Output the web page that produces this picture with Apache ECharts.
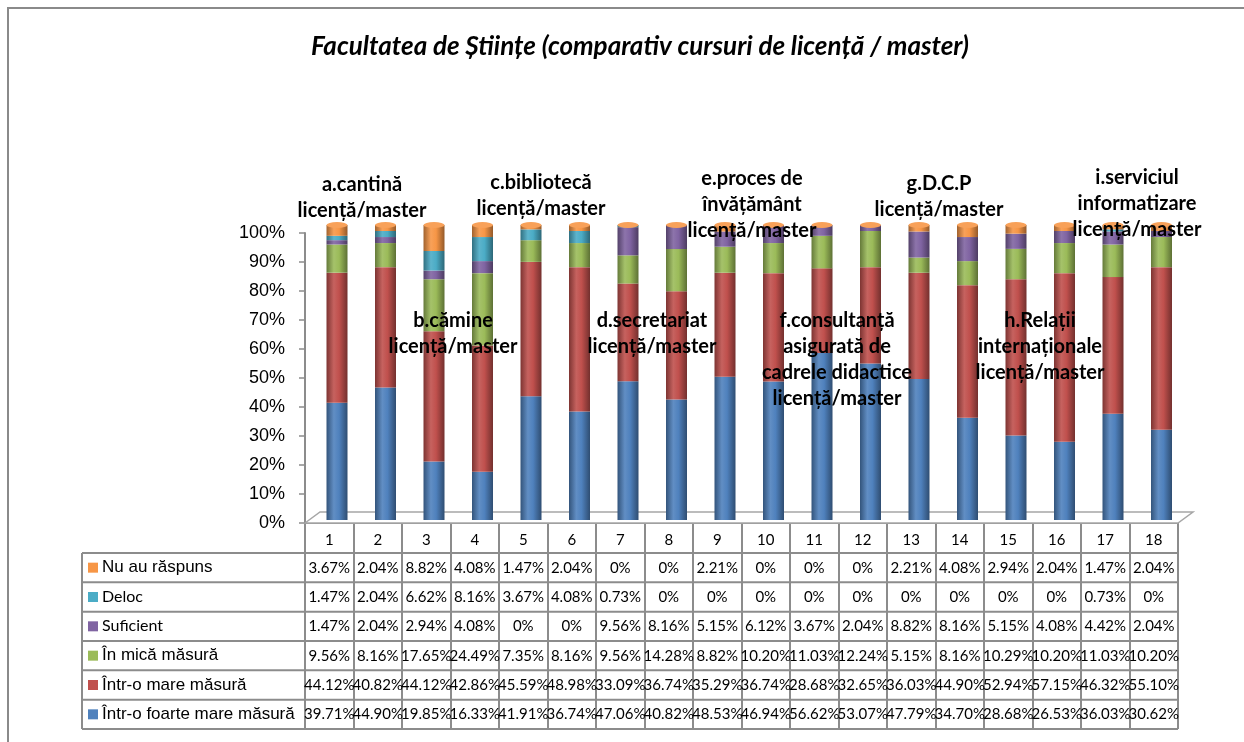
<!DOCTYPE html>
<html>
<head>
<meta charset="utf-8">
<script src="https://cdn.jsdelivr.net/npm/echarts@6.0.0/dist/echarts.min.js"></script>
<style>
  html, body { margin: 0; padding: 0; background: #fff; }
  #chart { width: 1244px; height: 742px; }
</style>
</head>
<body>
<div id="chart"></div>
<script>
// date citite din tabelul graficului (procente)
const categories = ['1', '2', '3', '4', '5', '6', '7', '8', '9', '10', '11', '12', '13', '14', '15', '16', '17', '18'];

const nuAuRaspuns = [3.67, 2.04, 8.82, 4.08, 1.47, 2.04, 0, 0, 2.21, 0, 0, 0, 2.21, 4.08, 2.94, 2.04, 1.47, 2.04];
const deloc = [1.47, 2.04, 6.62, 8.16, 3.67, 4.08, 0.73, 0, 0, 0, 0, 0, 0, 0, 0, 0, 0.73, 0];
const suficient = [1.47, 2.04, 2.94, 4.08, 0, 0, 9.56, 8.16, 5.15, 6.12, 3.67, 2.04, 8.82, 8.16, 5.15, 4.08, 4.42, 2.04];
const inMicaMasura = [9.56, 8.16, 17.65, 24.49, 7.35, 8.16, 9.56, 14.28, 8.82, 10.20, 11.03, 12.24, 5.15, 8.16, 10.29, 10.20, 11.03, 10.20];
const intrOMareMasura = [44.12, 40.82, 44.12, 42.86, 45.59, 48.98, 33.09, 36.74, 35.29, 36.74, 28.68, 32.65, 36.03, 44.90, 52.94, 57.15, 46.32, 55.10];
const intrOFoarteMareMasura = [39.71, 44.90, 19.85, 16.33, 41.91, 36.74, 47.06, 40.82, 48.53, 46.94, 56.62, 53.07, 47.79, 34.70, 28.68, 26.53, 36.03, 30.62];

const yTicks = [0, 10, 20, 30, 40, 50, 60, 70, 80, 90, 100];

const annotations = [
  'a.cantină\nlicență/master',
  'b.cămine\nlicență/master',
  'c.bibliotecă\nlicență/master',
  'd.secretariat\nlicență/master',
  'e.proces de\nînvățământ\nlicență/master',
  'f.consultanță\nasigurată de\ncadrele didactice\nlicență/master',
  'g.D.C.P\nlicență/master',
  'h.Relații\ninternaționale\nlicență/master',
  'i.serviciul\ninformatizare\nlicență/master'
];

// serii: de jos in sus in stiva
const stackSeries = [
  { name: 'Într-o foarte mare măsură', data: intrOFoarteMareMasura, color: '#4F81BD' },
  { name: 'Într-o mare măsură', data: intrOMareMasura, color: '#C0504D' },
  { name: 'În mică măsură', data: inMicaMasura, color: '#9BBB59' },
  { name: 'Suficient', data: suficient, color: '#8064A2' },
  { name: 'Deloc', data: deloc, color: '#4BACC6' },
  { name: 'Nu au răspuns', data: nuAuRaspuns, color: '#F79646' }
];

// randurile tabelului, de sus in jos
const tableRows = stackSeries.slice().reverse();

function shade(hex, f) {
  let n = parseInt(hex.slice(1), 16);
  let r = (n >> 16) & 255, g = (n >> 8) & 255, b = n & 255;
  const m = v => Math.max(0, Math.min(255, Math.round(f < 0 ? v * (1 + f) : v + (255 - v) * f)));
  return 'rgb(' + m(r) + ',' + m(g) + ',' + m(b) + ')';
}

function cylinder(hex) {
  return {
    type: 'linear', x: 0, y: 0, x2: 1, y2: 0,
    colorStops: [
      { offset: 0, color: shade(hex, -0.35) },
      { offset: 0.35, color: shade(hex, 0.1) },
      { offset: 0.6, color: shade(hex, 0.0) },
      { offset: 1, color: shade(hex, -0.4) }
    ]
  };
}

function fmt(v) {
  return v === 0 ? '0%' : v.toFixed(2) + '%';
}

// geometrie
const axisLeft = 305, axisRight = 1178, axisTop = 233, axisBottom = 523;
const tableLeft = 82, headerBottom = 553, tableBottom = 729;
const rowH = (tableBottom - headerBottom) / tableRows.length;

const gridLine = '#8c8c8c';

// axe x suplimentare pentru valorile din tabel
const rowAxes = tableRows.map((row, i) => ({
  type: 'category',
  gridIndex: 0,
  position: 'bottom',
  data: categories,
  axisLine: { show: false },
  axisTick: { show: false },
  axisLabel: {
    interval: 0,
    margin: headerBottom - axisBottom + rowH * (i + 0.5),
    verticalAlign: 'middle',
    fontFamily: 'Lato',
    fontSize: 15,
    color: '#000',
    formatter: (v, idx) => fmt(row.data[idx])
  }
}));

// capac eliptic deasupra fiecarei coloane
const capColor = stackSeries[stackSeries.length - 1].color;
const caps = categories.map((c, i) => {
  let total = 0;
  stackSeries.forEach(s => { total += s.data[i]; });
  return total;
});

const series = stackSeries.map(s => ({
  name: s.name,
  type: 'bar',
  stack: 'total',
  xAxisIndex: 1,
  yAxisIndex: 1,
  barWidth: 21,
  data: s.data,
  itemStyle: { color: cylinder(s.color) },
  emphasis: { disabled: true }
}));

series.push({
  type: 'pictorialBar',
  xAxisIndex: 1,
  yAxisIndex: 1,
  symbol: 'circle',
  symbolSize: [21, 6],
  symbolPosition: 'end',
  symbolOffset: [0, '-50%'],
  data: caps,
  itemStyle: { color: shade(capColor, 0.1) },
  z: 5,
  silent: true
});

// grafica: cadru, podea, tabel, legenda, titlu, adnotari
const graphics = [];

graphics.push({
  type: 'rect', shape: { x: 8, y: 8, width: 1300, height: 800 },
  style: { fill: 'none', stroke: '#8a8a8a', lineWidth: 2 }, z: 0
});

graphics.push({
  type: 'polygon',
  shape: { points: [[axisLeft, axisBottom], [axisLeft + 15, axisBottom - 11], [axisRight + 15, axisBottom - 11], [axisRight, axisBottom]] },
  style: { fill: '#fff', stroke: '#a6a6a6', lineWidth: 1.5 }, z: 1
});

for (let i = 0; i <= tableRows.length; i++) {
  let y = headerBottom + rowH * i;
  graphics.push({
    type: 'line', shape: { x1: tableLeft, y1: y, x2: axisRight, y2: y },
    style: { stroke: gridLine, lineWidth: 2 }, z: 10
  });
}
graphics.push({
  type: 'line', shape: { x1: tableLeft, y1: headerBottom, x2: tableLeft, y2: tableBottom },
  style: { stroke: gridLine, lineWidth: 2 }, z: 10
});

tableRows.forEach((row, i) => {
  let cy = headerBottom + rowH * (i + 0.5);
  let calibri = row.name === 'Deloc' || row.name === 'Suficient';
  graphics.push({
    type: 'rect', shape: { x: 88, y: cy - 5, width: 10, height: 10 },
    style: { fill: row.color }, z: 11
  });
  graphics.push({
    type: 'text', z: 11,
    style: {
      x: 102, y: cy, text: row.name, fill: '#000',
      font: calibri ? '16px Lato' : '17px "Liberation Sans"',
      align: 'left', verticalAlign: 'middle'
    }
  });
});

graphics.push({
  type: 'text', z: 11,
  style: {
    x: 640, y: 47, text: 'Facultatea de Științe (comparativ cursuri de licență / master)',
    fill: '#000', font: 'italic bold 26px Lato', align: 'center', verticalAlign: 'middle'
  }
});

const annotPos = [[362, 185], [453, 321], [541, 183], [652, 321], [752, 179], [837, 321], [939, 184], [1040, 321], [1137, 178]];
annotations.forEach((t, i) => {
  graphics.push({
    type: 'text', z: 20,
    style: {
      x: annotPos[i][0], y: annotPos[i][1] - 13, text: t, fill: '#000',
      font: 'bold 20px Lato', lineHeight: 26, align: 'center', verticalAlign: 'top'
    }
  });
});

const option = {
  animation: false,
  backgroundColor: '#fff',
  grid: [
    { left: axisLeft, top: axisTop, width: axisRight - axisLeft, height: axisBottom - axisTop },
    { left: 312.75, top: 225, width: axisRight - axisLeft, height: 295 }
  ],
  xAxis: [
    {
      type: 'category',
      gridIndex: 0,
      data: categories,
      axisLine: { show: true, lineStyle: { color: gridLine, width: 2 } },
      axisTick: { show: true, interval: 0, length: tableBottom - axisBottom, lineStyle: { color: gridLine, width: 2 } },
      axisLabel: { interval: 0, margin: 10, fontFamily: 'Lato', fontSize: 15, color: '#000' }
    },
    { type: 'category', gridIndex: 1, data: categories, show: false },
    ...rowAxes
  ],
  yAxis: [
    {
      type: 'value',
      gridIndex: 0,
      min: yTicks[0],
      max: yTicks[yTicks.length - 1],
      interval: 10,
      axisLine: { show: true, lineStyle: { color: gridLine, width: 2 } },
      axisTick: { show: true, length: 6, lineStyle: { color: gridLine, width: 1.5 } },
      splitLine: { show: false },
      axisLabel: { margin: 20, formatter: '{value}%', fontFamily: 'Liberation Sans', fontSize: 18, color: '#000' }
    },
    { type: 'value', gridIndex: 1, min: 0, max: 100, show: false }
  ],
  series: series,
  graphic: { elements: graphics }
};

const myChart = echarts.init(document.getElementById('chart'), null, { renderer: 'canvas' });
myChart.setOption(option);
</script>
</body>
</html>
